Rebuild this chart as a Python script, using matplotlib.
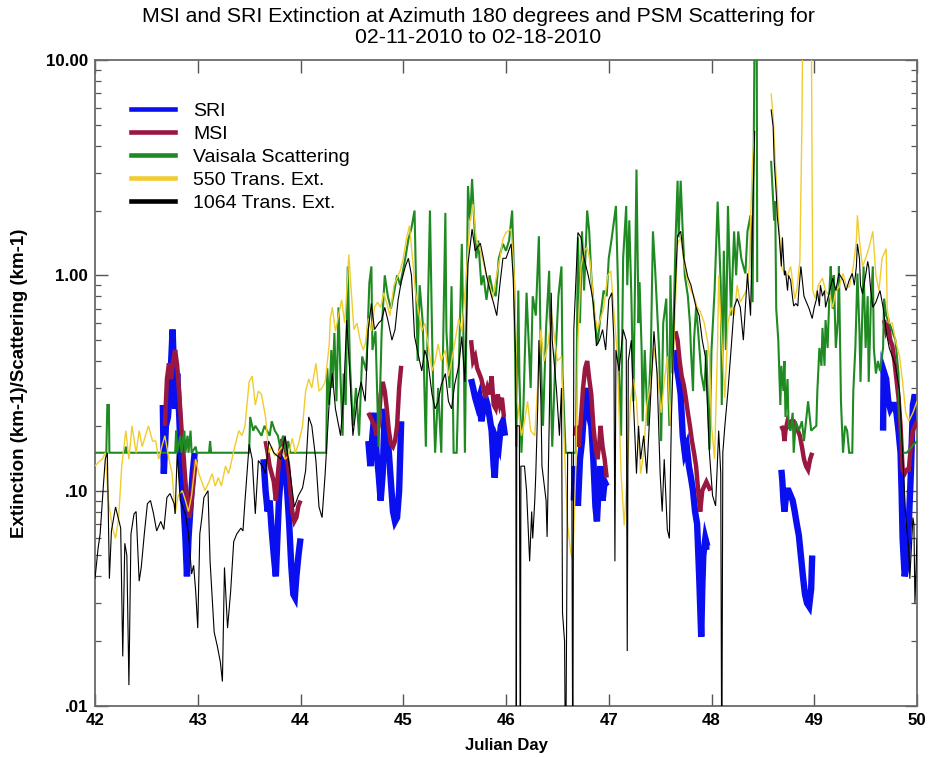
import numpy as np
import matplotlib
matplotlib.use("Agg")
import matplotlib.pyplot as plt
from matplotlib.lines import Line2D
from matplotlib.ticker import FixedLocator, FixedFormatter, LogLocator, NullFormatter

nan = float("nan")

# ---------------- data (Julian day, extinction / scattering in km-1) ----------------
sri_day = [42.66, 42.67, 42.69, 42.71, 42.73, 42.755, 42.77, 42.78, 42.80, 42.82, 42.84, 42.86, 42.88,
           42.895, 42.91, 42.93, 42.95, 42.97, nan,
           43.64, 43.66, 43.68, 43.70, 43.72, 43.74, 43.76, 43.775, 43.79, 43.81, 43.83, 43.85, 43.87,
           43.89, 43.91, 43.93, 43.945, 43.96, 43.98, 44.0, nan,
           44.66, 44.68, 44.70, 44.72, 44.74, 44.76, 44.78, 44.80, 44.82, 44.84, 44.86, 44.88, 44.90,
           44.92, 44.94, 44.96, 44.98, nan,
           45.66, 45.68, 45.70, 45.72, 45.74, 45.76, 45.78, 45.80, 45.82, 45.84, 45.86, 45.88, 45.89,
           45.91, 45.93, 45.95, 45.97, 45.99, nan,
           46.66, 46.67, 46.69, 46.70, 46.72, 46.74, 46.76, 46.78, 46.79, 46.81, 46.83, 46.85, 46.87,
           46.885, 46.90, 46.92, 46.94, 46.96, 46.98, nan,
           47.64, 47.66, 47.68, 47.70, 47.72, 47.74, 47.76, 47.78, 47.80, 47.82, 47.84, 47.86, 47.88,
           47.90, 47.91, 47.92, 47.94, 47.96, 47.98, nan,
           48.68, 48.69, 48.70, 48.71, 48.72, 48.73, 48.75, 48.77, 48.79, 48.81, 48.83, 48.85, 48.87,
           48.89, 48.91, 48.93, 48.95, 48.97, 48.98, nan,
           49.67, 49.675, 49.70, 49.72, 49.74, 49.76, 49.78, 49.80, 49.82, 49.84, 49.85, 49.86, 49.88,
           49.90, 49.92, 49.94, 49.96, 49.98, 50.0]
sri_val = [0.25, 0.12, 0.20, 0.22, 0.30, 0.56, 0.35, 0.24, 0.35, 0.22, 0.13, 0.09, 0.06,
           0.04, 0.06, 0.085, 0.12, 0.15, nan,
           0.14, 0.10, 0.08, 0.09, 0.065, 0.05, 0.04, 0.06, 0.09, 0.12, 0.135, 0.13, 0.10,
           0.07, 0.045, 0.033, 0.032, 0.04, 0.05, 0.06, nan,
           0.17, 0.13, 0.18, 0.23, 0.15, 0.12, 0.09, 0.12, 0.24, 0.19, 0.15, 0.11, 0.08,
           0.072, 0.075, 0.10, 0.21, nan,
           0.33, 0.30, 0.27, 0.25, 0.27, 0.21, 0.24, 0.27, 0.25, 0.22, 0.19, 0.13, 0.115,
           0.17, 0.16, 0.20, 0.21, 0.18, nan,
           0.09, 0.13, 0.10, 0.085, 0.14, 0.17, 0.24, 0.27, 0.30, 0.22, 0.20, 0.14, 0.085,
           0.072, 0.10, 0.13, 0.09, 0.11, 0.105, nan,
           0.45, 0.38, 0.33, 0.28, 0.18, 0.15, 0.16, 0.13, 0.115, 0.10, 0.08, 0.07, 0.04,
           0.021, 0.035, 0.05, 0.06, 0.055, 0.055, nan,
           0.125, 0.11, 0.09, 0.08, 0.09, 0.10, 0.10, 0.095, 0.09, 0.08, 0.07, 0.062, 0.05,
           0.04, 0.033, 0.03, 0.029, 0.035, 0.05, nan,
           0.19, 0.36, 0.33, 0.26, 0.24, 0.25, 0.25, 0.23, 0.19, 0.15, 0.10, 0.06, 0.04,
           0.045, 0.07, 0.12, 0.25, 0.28, 0.20]

msi_day = [42.68, 42.70, 42.72, 42.74, 42.76, 42.78, 42.80, 42.82, 42.84, 42.86, 42.88, 42.90, 42.92,
           42.94, 42.96, 42.98, nan,
           43.66, 43.68, 43.70, 43.72, 43.74, 43.76, 43.78, 43.80, 43.82, 43.84, 43.86, 43.88, 43.90,
           43.92, 43.94, 43.96, 43.98, 44.0, nan,
           44.66, 44.68, 44.70, 44.72, 44.74, 44.76, 44.78, 44.80, 44.82, 44.84, 44.86, 44.88, 44.90,
           44.92, 44.94, 44.96, 44.98, nan,
           45.66, 45.68, 45.70, 45.72, 45.74, 45.76, 45.78, 45.80, 45.82, 45.84, 45.86, 45.88, 45.90,
           45.92, 45.94, 45.96, 45.98, nan,
           46.67, 46.69, 46.71, 46.73, 46.75, 46.77, 46.79, 46.81, 46.83, 46.85, 46.87, 46.89, 46.91,
           46.92, 46.94, 46.96, 46.98, nan,
           47.65, 47.67, 47.69, 47.71, 47.73, 47.75, 47.77, 47.79, 47.81, 47.83, 47.85, 47.87, 47.89,
           47.91, 47.93, 47.95, 47.97, 47.99, nan,
           48.68, 48.70, 48.71, 48.72, 48.74, 48.76, 48.78, 48.80, 48.82, 48.84, 48.86, 48.88, 48.90,
           48.92, 48.94, 48.96, 48.98, nan,
           49.68, 49.70, 49.72, 49.74, 49.76, 49.78, 49.80, 49.82, 49.84, 49.86, 49.88, 49.90, 49.92,
           49.94, 49.96, 49.98, 50.0]
msi_val = [0.20, 0.33, 0.39, 0.33, 0.40, 0.45, 0.38, 0.28, 0.20, 0.15, 0.11, 0.09, 0.075,
           0.09, 0.11, 0.14, nan,
           0.17, 0.15, 0.13, 0.12, 0.11, 0.09, 0.12, 0.15, 0.17, 0.17, 0.15, 0.13, 0.10,
           0.08, 0.072, 0.075, 0.085, 0.09, nan,
           0.23, 0.22, 0.21, 0.20, 0.18, 0.20, 0.28, 0.32, 0.29, 0.24, 0.19, 0.165, 0.16,
           0.17, 0.20, 0.30, 0.38, nan,
           0.50, 0.40, 0.42, 0.37, 0.35, 0.33, 0.30, 0.27, 0.30, 0.28, 0.34, 0.25, 0.24,
           0.28, 0.25, 0.27, 0.22, nan,
           0.18, 0.20, 0.16, 0.22, 0.30, 0.37, 0.40, 0.33, 0.28, 0.20, 0.16, 0.14, 0.17,
           0.20, 0.16, 0.14, 0.115, nan,
           0.55, 0.50, 0.40, 0.34, 0.31, 0.27, 0.23, 0.20, 0.17, 0.15, 0.13, 0.10, 0.08,
           0.10, 0.105, 0.11, 0.105, 0.10, nan,
           0.20, 0.19, 0.17, 0.19, 0.21, 0.20, 0.21, 0.21, 0.20, 0.19, 0.18, 0.16, 0.14,
           0.13, 0.125, 0.14, 0.15, nan,
           0.62, 0.55, 0.58, 0.50, 0.47, 0.40, 0.33, 0.27, 0.20, 0.125, 0.12, 0.125, 0.125,
           0.16, 0.19, 0.20, 0.21]

vais_day = [42.00, 42.11, 42.12, 42.135, 42.14, 42.29, 42.30, 42.31, 42.78, 42.79, 42.80, 42.83, 42.84,
            42.87, 42.88, 42.90, 42.91, 42.93, 42.94, 42.98, 42.99, 43.11, 43.12, 43.13, 43.50, 43.51,
            43.54, 43.56, 43.59, 43.62, 43.65, 43.70, 43.72, 43.75, 43.78, 43.80, 43.83, 43.86, 43.88,
            43.90, 44.25, 44.26, 44.28, 44.30, 44.31, 44.33, 44.35, 44.37, 44.39, 44.41, 44.42, 44.44,
            44.46, 44.48, 44.51, 44.54, 44.57, 44.60, 44.64, 44.67, 44.69, 44.70, 44.73, 44.76, 44.79,
            44.82, 44.85, 44.88, 44.91, 44.94, 44.97, 45.02, 45.05, 45.08, 45.11, 45.13, 45.14, 45.16,
            45.19, 45.22, 45.24, 45.26, 45.28, 45.29, 45.31, 45.34, 45.37, 45.41, 45.42, 45.45, 45.47,
            45.49, 45.52, 45.55, 45.57, 45.59, 45.60, 45.63, 45.65, 45.67, 45.69, 45.71, 45.73, 45.76,
            45.78, 45.81, 45.84, 45.87, 45.90, 45.93, 45.97, 46.00, 46.03, 46.06, 46.08, 46.10, 46.12,
            46.13, 46.15, 46.17, 46.19, 46.20, 46.24, 46.26, 46.29, 46.32, 46.34, 46.36, 46.39, 46.42,
            46.44, 46.45, 46.48, 46.51, 46.54, 46.55, 46.58, 46.68, 46.70, 46.72, 46.74, 46.76, 46.79,
            46.81, 46.83, 46.86, 46.89, 46.92, 46.95, 46.98, 47.00, 47.03, 47.07, 47.09, 47.10, 47.12,
            47.14, 47.17, 47.18, 47.20, 47.22, 47.24, 47.27, 47.29, 47.30, 47.32, 47.33, 47.35, 47.38,
            47.41, 47.43, 47.45, 47.47, 47.49, 47.51, 47.53, 47.56, 47.57, 47.59, 47.60, 47.62, 47.65,
            47.67, 47.68, 47.70, 47.72, 47.74, 47.77, 47.79, 47.80, 47.82, 47.83, 47.85, 47.87, 47.90,
            47.93, 47.95, 47.98, 48.00, 48.03, 48.06, 48.09, 48.10, 48.12, 48.14, 48.16, 48.19, 48.22,
            48.24, 48.26, 48.29, 48.31, 48.33, 48.35, 48.38, 48.40, 48.42, 48.44, 48.445, nan,
            48.58, 48.61, 48.62, 48.63, 48.65, 48.67, 48.68, 48.70, 48.71, 48.72, 48.74, 48.75, 48.77,
            48.79, 48.80, 48.82, 48.85, 48.88, 48.90, 48.94, 48.97, 49.02, 49.03, 49.05, 49.07, 49.08,
            49.10, 49.11, 49.13, 49.15, 49.16, 49.18, 49.19, 49.21, 49.23, 49.24, 49.26, 49.28, 49.30,
            49.32, 49.34, 49.37, 49.38, 49.40, 49.42, 49.44, 49.45, 49.47, 49.48, 49.50, 49.52, 49.53,
            49.55, 49.57, 49.58, 49.60, 49.62, 49.64, 49.67, 49.68, 49.70, 49.73, 49.76, 49.79, 49.82,
            49.83, 49.86, 49.90, 49.95, 50.00]
vais_val = [0.15, 0.15, 0.25, 0.25, 0.15, 0.15, 0.16, 0.15, 0.15, 0.19, 0.15, 0.18, 0.15,
            0.19, 0.15, 0.18, 0.15, 0.19, 0.15, 0.16, 0.15, 0.15, 0.17, 0.15, 0.15, 0.22,
            0.19, 0.20, 0.19, 0.18, 0.20, 0.18, 0.21, 0.19, 0.18, 0.16, 0.18, 0.15, 0.17,
            0.15, 0.15, 0.37, 0.25, 0.45, 0.30, 0.54, 0.26, 0.71, 0.33, 0.18, 0.35, 0.25,
            1.1, 0.40, 0.20, 0.30, 0.18, 0.42, 0.36, 0.92, 1.1, 0.45, 0.55, 0.16, 0.55,
            1.0, 0.8, 0.7, 0.83, 1.0, 0.9, 1.2, 1.47, 1.66, 2.0, 0.68, 0.4, 0.9,
            0.6, 0.16, 0.7, 2.0, 0.55, 0.32, 0.15, 0.30, 0.15, 1.95, 0.55, 0.30, 0.89,
            0.15, 0.15, 0.55, 1.4, 0.4, 0.15, 2.6, 1.8, 2.8, 1.8, 1.2, 1.45, 0.9,
            1.0, 0.77, 1.0, 0.85, 0.8, 1.2, 1.4, 1.3, 1.45, 2.0, 0.9, 0.16, 0.85,
            0.35, 0.15, 0.25, 0.57, 0.83, 0.3, 0.8, 0.65, 1.52, 0.4, 0.2, 0.57, 1.05,
            0.25, 0.16, 0.4, 0.8, 1.1, 0.35, 0.15, 0.15, 1.5, 0.6, 1.6, 0.85, 2.0,
            1.6, 1.0, 0.65, 0.48, 0.65, 0.85, 0.8, 1.2, 1.5, 2.1, 0.9, 0.35, 0.18,
            1.2, 2.1, 0.9, 1.8, 0.8, 0.26, 3.1, 0.6, 0.93, 0.45, 0.21, 0.45, 0.2,
            0.45, 1.6, 1.1, 0.7, 0.45, 0.17, 0.6, 0.78, 0.45, 0.2, 1.0, 0.35, 1.45,
            2.75, 1.5, 2.75, 1.6, 1.0, 0.8, 0.6, 0.45, 0.29, 0.5, 0.71, 0.55, 0.35,
            0.29, 0.45, 0.155, 0.45, 0.85, 2.2, 0.9, 0.25, 1.3, 0.45, 2.1, 0.65, 1.6,
            1.0, 1.6, 1.2, 1.1, 1.02, 1.6, 1.9, 0.75, 15.0, 15.0, 0.93, nan,
            3.4, 1.8, 2.2, 0.7, 0.5, 0.25, 0.38, 0.29, 0.4, 0.22, 0.33, 0.2, 0.19,
            0.23, 0.15, 0.21, 0.19, 0.21, 0.17, 0.26, 0.19, 0.2, 0.29, 0.46, 0.38, 0.57,
            0.38, 0.62, 0.46, 0.89, 1.1, 0.7, 1.0, 0.46, 0.62, 1.1, 0.26, 0.15, 0.2,
            0.19, 0.15, 0.15, 0.29, 0.46, 1.02, 0.55, 0.32, 0.71, 1.1, 0.46, 0.8, 0.32,
            0.71, 1.1, 0.46, 0.35, 0.40, 0.36, 0.46, 0.78, 0.65, 0.6, 0.55, 0.5, 0.35,
            0.22, 0.15, 0.15, 0.16, 0.17]

ext550_day = [42.00, 42.03, 42.07, 42.10, 42.13, 42.17, 42.20, 42.23, 42.26, 42.30, 42.33, 42.36, 42.40,
              42.43, 42.46, 42.49, 42.52, 42.56, 42.59, 42.62, 42.65, 42.68, 42.72, 42.75, 42.78, 42.81,
              42.85, 42.88, 42.91, 42.94, 42.98, 43.01, 43.04, 43.07, 43.11, 43.14, 43.17, 43.20, 43.23,
              43.27, 43.30, 43.33, 43.36, 43.40, 43.43, 43.46, 43.50, 43.53, 43.56, 43.59, 43.62, 43.66,
              43.69, 43.72, 43.75, 43.78, 43.82, 43.85, 43.88, 43.92, 43.95, 43.98, 44.02, 44.05, 44.08,
              44.11, 44.15, 44.18, 44.21, 44.24, 44.28, 44.29, 44.31, 44.34, 44.37, 44.40, 44.43, 44.46,
              44.47, 44.49, 44.52, 44.55, 44.58, 44.61, 44.63, 44.66, 44.69, 44.72, 44.75, 44.78, 44.81,
              44.84, 44.87, 44.91, 44.97, 45.00, 45.03, 45.06, 45.09, 45.12, 45.15, 45.18, 45.21, 45.25,
              45.28, 45.31, 45.34, 45.37, 45.41, 45.44, 45.47, 45.50, 45.54, 45.57, 45.60, 45.65, 45.68,
              45.71, 45.75, 45.78, 45.81, 45.84, 45.87, 45.90, 45.94, 45.97, 46.00, 46.05, 46.08, 46.11,
              46.15, 46.18, 46.21, 46.24, 46.28, 46.31, 46.34, 46.37, 46.41, 46.44, 46.47, 46.50, 46.54,
              46.57, 46.60, 46.63, 46.65, 46.68, 46.70, 46.73, 46.76, 46.79, 46.82, 46.86, 46.89, 46.92,
              46.95, 46.99, 47.02, 47.05, 47.08, 47.12, 47.15, 47.18, 47.21, 47.24, 47.27, 47.31, 47.34,
              47.37, 47.41, 47.44, 47.47, 47.51, 47.54, 47.57, 47.60, 47.64, 47.67, 47.70, 47.74, 47.77,
              47.80, 47.83, 47.86, 47.89, 47.93, 47.96, 47.98, 48.00, 48.03, 48.06, 48.07, 48.10, 48.13,
              48.16, 48.19, 48.22, 48.25, 48.28, 48.31, 48.34, 48.37, 48.38, 48.40, 48.42, nan,
              48.58, 48.60, 48.62, 48.64, 48.66, 48.68, 48.71, 48.74, 48.77, 48.81, 48.83, 48.86, 48.88,
              48.89, 48.97, 48.985, 49.01, 49.04, 49.08, 49.11, 49.15, 49.18, 49.21, 49.24, 49.28, 49.31,
              49.34, 49.38, 49.41, 49.42, 49.44, 49.47, 49.50, 49.53, 49.57, 49.60, 49.63, 49.66, 49.70,
              49.71, 49.73, 49.76, 49.79, 49.83, 49.86, 49.89, 49.92, 49.96, 50.00]
ext550_val = [0.13, 0.135, 0.14, 0.15, 0.09, 0.067, 0.06, 0.075, 0.13, 0.19, 0.14, 0.2, 0.15,
              0.19, 0.16, 0.18, 0.2, 0.17, 0.17, 0.14, 0.16, 0.18, 0.14, 0.12, 0.078, 0.095,
              0.1, 0.09, 0.08, 0.095, 0.14, 0.12, 0.11, 0.1, 0.11, 0.12, 0.105, 0.115, 0.105,
              0.13, 0.12, 0.138, 0.16, 0.19, 0.18, 0.2, 0.32, 0.34, 0.25, 0.29, 0.28, 0.22,
              0.15, 0.16, 0.145, 0.15, 0.16, 0.14, 0.145, 0.175, 0.15, 0.165, 0.2, 0.29, 0.33,
              0.30, 0.39, 0.29, 0.30, 0.32, 0.48, 0.63, 0.71, 0.55, 0.65, 0.77, 0.6, 1.0,
              1.25, 0.9, 0.56, 0.6, 0.5, 0.45, 0.48, 0.63, 0.55, 0.71, 0.75, 0.71, 0.83,
              0.74, 0.65, 0.9, 1.05, 1.2, 1.47, 1.7, 1.2, 0.83, 0.68, 0.55, 0.6, 0.45,
              0.36, 0.4, 0.48, 0.4, 0.45, 0.34, 0.4, 0.48, 0.63, 0.55, 0.83, 1.8, 2.14,
              1.47, 1.3, 1.15, 1.0, 0.9, 0.78, 0.95, 1.2, 1.47, 1.58, 1.64, 1.0, 0.26,
              0.18, 0.21, 0.26, 0.19, 0.18, 0.32, 0.56, 0.4, 0.48, 0.68, 0.52, 0.4, 0.42,
              0.15, 0.069, 0.052, 0.047, 0.13, 0.5, 1.1, 1.3, 1.35, 1.15, 0.68, 0.56, 0.63,
              0.7, 1.0, 1.05, 0.68, 0.45, 0.12, 0.069, 0.12, 0.26, 0.33, 0.26, 0.12, 0.15,
              0.25, 0.32, 0.46, 0.36, 0.23, 0.32, 0.42, 0.2, 0.57, 1.4, 1.5, 1.1, 0.93,
              0.85, 0.8, 0.71, 0.68, 0.6, 0.5, 0.42, 0.2, 0.14, 0.5, 1.0, 0.5, 0.27,
              0.6, 0.71, 0.65, 0.9, 0.75, 0.8, 0.85, 1.1, 1.8, 3.4, 4.7, nan,
              7.0, 5.5, 3.4, 2.4, 1.6, 1.1, 1.02, 1.0, 1.1, 0.78, 0.85, 1.17, 5.0,
              20.0, 20.0, 0.85, 0.78, 0.9, 0.97, 0.85, 0.8, 0.71, 0.85, 0.88, 1.02, 0.9,
              0.88, 1.1, 1.45, 1.9, 1.45, 1.1, 1.2, 1.33, 1.6, 1.0, 0.85, 1.2, 1.33,
              0.7, 0.6, 0.6, 0.5, 0.42, 0.32, 0.23, 0.21, 0.23, 0.26]

ext1064_day = [42.00, 42.03, 42.05, 42.08, 42.10, 42.12, 42.14, 42.16, 42.20, 42.25, 42.27, 42.29, 42.31,
               42.33, 42.35, 42.38, 42.40, 42.43, 42.45, 42.48, 42.51, 42.54, 42.57, 42.60, 42.64, 42.67,
               42.70, 42.73, 42.77, 42.78, 42.80, 42.83, 42.88, 42.91, 42.94, 42.96, 42.98, 43.00, 43.02,
               43.04, 43.06, 43.10, 43.12, 43.16, 43.19, 43.22, 43.24, 43.26, 43.29, 43.32, 43.35, 43.38,
               43.42, 43.44, 43.46, 43.50, 43.53, 43.56, 43.59, 43.63, 43.66, 43.69, 43.74, 43.81, 43.85,
               43.90, 43.94, 43.98, 44.02, 44.05, 44.08, 44.11, 44.15, 44.18, 44.21, 44.24, 44.28, 44.31,
               44.34, 44.39, 44.42, 44.45, 44.48, 44.51, 44.55, 44.59, 44.63, 44.66, 44.69, 44.72, 44.76,
               44.79, 44.82, 44.85, 44.89, 44.92, 44.95, 44.98, 45.02, 45.05, 45.08, 45.11, 45.15, 45.18,
               45.21, 45.24, 45.28, 45.31, 45.34, 45.37, 45.41, 45.44, 45.47, 45.50, 45.54, 45.57, 45.60,
               45.63, 45.67, 45.70, 45.75, 45.78, 45.81, 45.85, 45.88, 45.91, 45.94, 45.97, 46.00, 46.05,
               46.07, 46.095, 46.10, 46.105, 46.13, 46.14, 46.145, 46.18, 46.20, 46.23, 46.25, 46.26, 46.28,
               46.29, 46.31, 46.32, 46.34, 46.35, 46.39, 46.40, 46.42, 46.44, 46.45, 46.49, 46.52, 46.54,
               46.55, 46.57, 46.58, 46.60, 46.64, 46.65, 46.66, 46.70, 46.73, 46.76, 46.80, 46.83, 46.85,
               46.88, 46.91, 46.94, 46.97, 47.00, 47.03, 47.05, 47.06, 47.07, 47.10, 47.14, 47.17, 47.18,
               47.19, 47.22, 47.24, 47.27, 47.29, 47.31, 47.34, 47.37, 47.41, 47.44, 47.47, 47.50, 47.52,
               47.54, 47.57, 47.59, 47.61, 47.64, 47.67, 47.70, 47.73, 47.77, 47.80, 47.83, 47.85, 47.88,
               47.91, 47.94, 47.98, 48.01, 48.04, 48.07, 48.09, 48.10, 48.11, 48.13, 48.16, 48.19, 48.22,
               48.25, 48.28, 48.31, 48.35, 48.38, 48.40, 48.42, nan,
               48.58, 48.60, 48.61, 48.63, 48.64, 48.66, 48.68, 48.69, 48.71, 48.72, 48.74, 48.75, 48.77,
               48.79, 48.80, 48.82, 48.84, 48.85, 48.87, 48.90, 48.95, 48.98, 49.00, 49.02, 49.03, 49.05,
               49.06, 49.08, 49.10, 49.11, 49.15, 49.18, 49.21, 49.24, 49.28, 49.31, 49.34, 49.37, 49.39,
               49.41, 49.42, 49.44, 49.45, 49.47, 49.50, 49.52, 49.53, 49.55, 49.57, 49.60, 49.64, 49.67,
               49.68, 49.70, 49.73, 49.76, 49.79, 49.83, 49.86, 49.89, 49.92, 49.93, 49.95, 49.96, 49.97,
               49.98, 50.00]
ext1064_val = [0.039, 0.054, 0.063, 0.103, 0.14, 0.15, 0.039, 0.065, 0.084, 0.067, 0.017, 0.057, 0.05,
               0.0125, 0.063, 0.078, 0.08, 0.038, 0.044, 0.063, 0.087, 0.09, 0.078, 0.065, 0.072, 0.066,
               0.093, 0.097, 0.087, 0.078, 0.15, 0.09, 0.078, 0.063, 0.041, 0.045, 0.034, 0.023, 0.063,
               0.075, 0.093, 0.1, 0.047, 0.022, 0.019, 0.016, 0.013, 0.044, 0.023, 0.034, 0.058, 0.063,
               0.067, 0.065, 0.09, 0.164, 0.14, 0.078, 0.138, 0.13, 0.12, 0.17, 0.15, 0.14, 0.18,
               0.12, 0.084, 0.095, 0.103, 0.124, 0.22, 0.2, 0.138, 0.084, 0.075, 0.12, 0.26, 0.35,
               0.24, 0.18, 0.28, 0.62, 0.35, 0.18, 0.26, 0.32, 0.26, 0.56, 0.74, 0.56, 0.6,
               0.62, 0.71, 0.62, 0.5, 0.56, 0.77, 0.93, 1.1, 1.2, 1.0, 0.52, 0.42, 0.36,
               0.45, 0.4, 0.28, 0.24, 0.26, 0.31, 0.35, 0.26, 0.24, 0.31, 0.38, 0.52, 0.32,
               1.13, 1.64, 1.3, 1.41, 1.2, 1.0, 0.83, 0.74, 0.65, 0.9, 1.2, 1.2, 1.4,
               0.97, 0.4, 0.004, 0.2, 0.2, 0.004, 0.13, 0.13, 0.1, 0.047, 0.08, 0.06, 0.09,
               0.12, 0.26, 0.5, 0.26, 0.13, 0.09, 0.061, 0.2, 0.83, 0.5, 0.3, 0.18, 0.3,
               0.027, 0.02, 0.004, 0.15, 0.15, 0.004, 0.56, 1.58, 1.5, 1.2, 1.0, 0.85, 0.74,
               0.47, 0.5, 0.56, 0.45, 0.77, 0.83, 0.5, 0.047, 0.45, 0.36, 0.56, 0.5, 0.018,
               0.4, 0.5, 0.26, 0.12, 0.2, 0.14, 0.18, 0.12, 0.29, 0.55, 0.35, 0.12, 0.08,
               0.14, 0.066, 0.06, 0.22, 0.71, 1.53, 1.6, 1.2, 0.98, 0.9, 0.78, 0.71, 0.65,
               0.5, 0.42, 0.15, 0.095, 0.085, 0.19, 0.12, 0.004, 0.15, 0.2, 0.29, 0.45, 0.71,
               0.78, 0.71, 0.5, 1.02, 0.65, 1.8, 4.7, nan,
               5.9, 4.9, 3.4, 2.4, 1.9, 1.5, 1.1, 1.5, 1.0, 1.05, 0.85, 1.0, 0.95,
               0.78, 0.72, 0.74, 0.72, 0.85, 1.1, 0.8, 0.7, 0.63, 0.71, 0.77, 0.85, 0.72,
               0.9, 0.8, 0.85, 0.71, 0.85, 0.97, 0.85, 1.02, 0.95, 0.85, 0.95, 1.02, 0.9,
               1.1, 1.4, 1.2, 0.9, 0.82, 1.0, 1.16, 1.1, 0.85, 0.71, 0.75, 0.85, 0.71,
               0.65, 0.55, 0.46, 0.42, 0.38, 0.29, 0.15, 0.076, 0.053, 0.039, 0.06, 0.075, 0.07,
               0.03, 0.06]

legend_labels = ["SRI", "MSI", "Vaisala Scattering", "550 Trans. Ext.", "1064 Trans. Ext."]
series_colors = ["#0a0ff0", "#9a1840", "#1f8a22", "#f0cc2e", "#000000"]
series_widths = [4.6, 3.2, 1.5, 1.0, 0.8]

x_ticks = [42, 43, 44, 45, 46, 47, 48, 49, 50]
y_ticks = [0.01, 0.1, 1.0, 10.0]
y_tick_labels = [".01", ".10", "1.00", "10.00"]

title_text = ("MSI and SRI Extinction at Azimuth 180 degrees and PSM Scattering for\n"
              "02-11-2010 to 02-18-2010")
x_label = "Julian Day"
y_label = "Extinction (km-1)/Scattering (km-1)"

# ---------------- figure ----------------
plt.rcParams["font.family"] = ["Liberation Sans", "DejaVu Sans"]

fig = plt.figure(figsize=(9.31, 7.57), dpi=100)
ax = fig.add_axes([95 / 931, 1 - 706 / 757, 822 / 931, 646 / 757])

series = [(sri_day, sri_val), (msi_day, msi_val), (vais_day, vais_val),
          (ext550_day, ext550_val), (ext1064_day, ext1064_val)]
for i, (d, v) in enumerate(series):
    ax.plot(d, v, color=series_colors[i], lw=series_widths[i], zorder=2 + i,
            solid_joinstyle="miter", solid_capstyle="butt")

ax.set_yscale("log")
ax.set_xlim(42, 50)
ax.set_ylim(0.01, 10)

ax.xaxis.set_major_locator(FixedLocator(x_ticks))
ax.set_xticklabels([str(t) for t in x_ticks])
ax.yaxis.set_major_locator(FixedLocator(y_ticks))
ax.yaxis.set_major_formatter(FixedFormatter(y_tick_labels))
ax.yaxis.set_minor_locator(LogLocator(base=10, subs=np.arange(2, 10)))
ax.yaxis.set_minor_formatter(NullFormatter())

ax.tick_params(which="major", direction="in", length=9, width=1.0, color="#555555",
               top=True, right=True, labelsize=12.2, pad=5)
ax.tick_params(which="minor", direction="in", length=4.5, width=0.9, color="#555555",
               right=True, left=True)
for lbl in ax.get_xticklabels() + ax.get_yticklabels():
    lbl.set_fontweight("bold")

for sp in ax.spines.values():
    sp.set_color("#6a6a6a")
    sp.set_linewidth(1.3)

ax.set_xlabel(x_label, fontsize=12, fontweight="bold", labelpad=7)
ax.set_ylabel(y_label, fontsize=13.5, fontweight="bold")
ax.yaxis.set_label_coords(-0.081, 0.5)

fig.text(478 / 931, 1 - 7 / 757, title_text, ha="center", va="top",
         fontsize=15.3, linespacing=1.12)

handles = [Line2D([], [], color=c, lw=3.3) for c in series_colors]
ax.legend(handles, legend_labels, loc="upper left", bbox_to_anchor=(0.044, 0.934),
          frameon=False, fontsize=14, handlelength=2.25, handletextpad=0.95,
          labelspacing=0.27, borderpad=0, borderaxespad=0)

fig.savefig("out.png", dpi=100)
